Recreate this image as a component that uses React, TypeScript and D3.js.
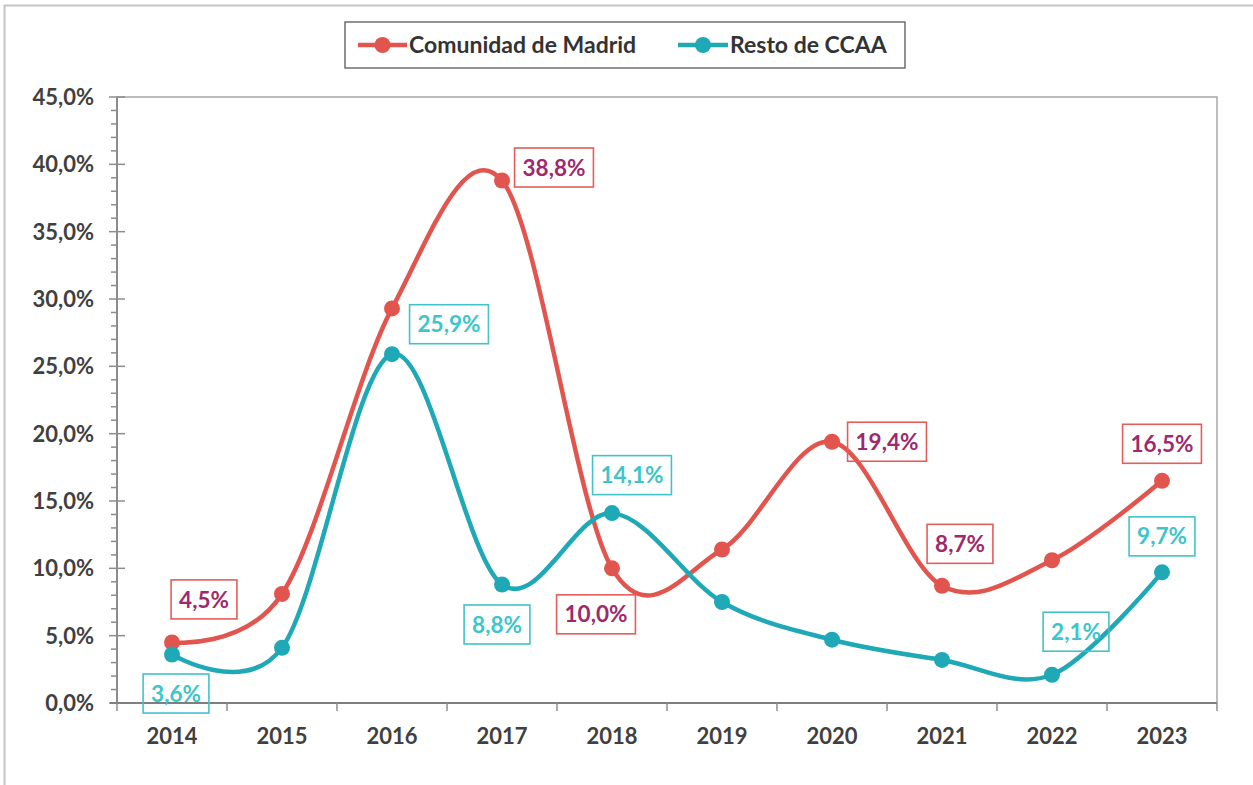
import React, { useEffect, useRef } from 'react';
import * as d3 from 'd3';

// datos (% variación)
const years = ['2014', '2015', '2016', '2017', '2018', '2019', '2020', '2021', '2022', '2023'];
const madrid = [4.5, 8.1, 29.3, 38.8, 10.0, 11.4, 19.4, 8.7, 10.6, 16.5];
const resto = [3.6, 4.1, 25.9, 8.8, 14.1, 7.5, 4.7, 3.2, 2.1, 9.7];
const seriesNames = ['Comunidad de Madrid', 'Resto de CCAA'];
const yTicks = [0, 5, 10, 15, 20, 25, 30, 35, 40, 45];

// qué puntos llevan etiqueta, y dónde va la caja (desplazamiento en px respecto al punto)
const madridLabels: [number, number, number][] = [
  [0, 32, -43], [3, 52, -13], [4, -16, 46], [6, 55, 0], [7, 18, -42], [9, 0, -37],
];
const restoLabels: [number, number, number][] = [
  [0, 4, 39], [2, 57, -30], [3, -5, 40], [4, 20, -38], [8, 24, -43], [9, 0, -36],
];

const W = 1253;
const H = 785;
const FONT = 'Lato, "Open Sans", sans-serif';

const fmt = (v: number) => v.toFixed(1).replace('.', ',') + '%';

const App = () => {
  const ref = useRef<SVGSVGElement>(null);

  useEffect(() => {
    const svg = d3.select(ref.current);
    svg.selectAll('*').remove();

    const x = d3.scaleBand().domain(years).range([117, 1217]).padding(0);
    const y = d3.scaleLinear().domain([0, 45]).range([703, 97]);
    const cx = (i: number) => (x(years[i]) as number) + x.bandwidth() / 2;

    // marco exterior
    svg.append('rect')
      .attr('x', 4.5).attr('y', 5.5).attr('width', W + 10).attr('height', H + 10)
      .attr('fill', '#fff').attr('stroke', '#c4c4c4').attr('stroke-width', 2);

    // área de trazado
    svg.append('rect')
      .attr('x', 117).attr('y', 97).attr('width', 1100).attr('height', 606)
      .attr('fill', 'none').attr('stroke', '#a8a8a8').attr('stroke-width', 1.5);

    // eje Y
    const minor = d3.range(0, 46, 1).filter(d => d % 5 !== 0);
    svg.selectAll('.minor').data(minor).enter().append('line')
      .attr('x1', 111).attr('x2', 117)
      .attr('y1', d => y(d)).attr('y2', d => y(d))
      .attr('stroke', '#8c8c8c').attr('stroke-width', 1.5);
    svg.selectAll('.major').data(yTicks).enter().append('line')
      .attr('x1', 109).attr('x2', 125)
      .attr('y1', d => y(d)).attr('y2', d => y(d))
      .attr('stroke', '#8c8c8c').attr('stroke-width', 1.5);
    svg.append('line')
      .attr('x1', 117).attr('x2', 117).attr('y1', 97).attr('y2', 703)
      .attr('stroke', '#8c8c8c').attr('stroke-width', 2);
    svg.selectAll('.ylab').data(yTicks).enter().append('text')
      .attr('x', 94).attr('y', d => y(d)).attr('dy', '0.36em')
      .attr('text-anchor', 'end')
      .attr('font-family', FONT).attr('font-weight', 700).attr('font-size', 22)
      .attr('fill', '#404040')
      .text(d => d.toFixed(1).replace('.', ',') + '%');

    // eje X
    svg.append('line')
      .attr('x1', 110).attr('x2', 1217).attr('y1', 703).attr('y2', 703)
      .attr('stroke', '#7f7f7f').attr('stroke-width', 2);
    const bounds = years.map(d => x(d) as number).concat([1217]);
    svg.selectAll('.xtick').data(bounds).enter().append('line')
      .attr('x1', d => d).attr('x2', d => d).attr('y1', 703).attr('y2', 711)
      .attr('stroke', '#8c8c8c').attr('stroke-width', 1.5);
    svg.selectAll('.xlab').data(years).enter().append('text')
      .attr('x', (d, i) => cx(i)).attr('y', 744)
      .attr('text-anchor', 'middle')
      .attr('font-family', FONT).attr('font-weight', 700).attr('font-size', 22)
      .attr('fill', '#404040')
      .text(d => d);

    // línea suavizada tipo Excel
    const line = d3.line<number>()
      .x((d, i) => cx(i))
      .y(d => y(d))
      .curve(d3.curveCatmullRom.alpha(0));

    const series = [
      { values: madrid, color: '#e2554f', text: '#9c2a6c', box: '#e35d5a', labels: madridLabels },
      { values: resto, color: '#1fa8b6', text: '#3cc6ca', box: '#42c3c8', labels: restoLabels },
    ];

    series.forEach(s => {
      svg.append('path')
        .attr('d', line(s.values))
        .attr('fill', 'none').attr('stroke', s.color).attr('stroke-width', 4.5)
        .attr('stroke-linejoin', 'round');
      svg.selectAll(null).data(s.values).enter().append('circle')
        .attr('cx', (d, i) => cx(i)).attr('cy', d => y(d)).attr('r', 8)
        .attr('fill', s.color);
    });

    // etiquetas con caja
    series.forEach(s => {
      s.labels.forEach(([i, dx, dy]) => {
        const px = cx(i) + dx;
        const py = y(s.values[i]) + dy;
        const g = svg.append('g');
        const rect = g.append('rect');
        const t = g.append('text')
          .attr('x', px).attr('y', py).attr('dy', '0.36em')
          .attr('text-anchor', 'middle')
          .attr('font-family', FONT).attr('font-weight', 700).attr('font-size', 22.5)
          .attr('fill', s.text)
          .text(fmt(s.values[i]));
        const bw = (t.node() as SVGTextElement).getComputedTextLength() + 16;
        rect.attr('x', px - bw / 2).attr('y', py - 19.5).attr('width', bw).attr('height', 39)
          .attr('fill', 'none').attr('stroke', s.box).attr('stroke-width', 1.6);
      });
    });

    // leyenda
    svg.append('rect')
      .attr('x', 345).attr('y', 22).attr('width', 560).attr('height', 46)
      .attr('fill', '#fff').attr('stroke', '#6e6e6e').attr('stroke-width', 1.5);
    const legendPos = [{ x0: 358, x1: 407, tx: 409 }, { x0: 678, x1: 728, tx: 730 }];
    series.forEach((s, k) => {
      const p = legendPos[k];
      svg.append('line')
        .attr('x1', p.x0).attr('x2', p.x1).attr('y1', 45).attr('y2', 45)
        .attr('stroke', s.color).attr('stroke-width', 4.5);
      svg.append('circle')
        .attr('cx', (p.x0 + p.x1) / 2).attr('cy', 45).attr('r', 8).attr('fill', s.color);
      svg.append('text')
        .attr('x', p.tx).attr('y', 45).attr('dy', '0.36em')
        .attr('font-family', FONT).attr('font-weight', 700).attr('font-size', 23)
        .attr('fill', '#333')
        .text(seriesNames[k]);
    });
  }, []);

  return (
    <div style={{ position: 'absolute', left: 0, top: 0 }}>
      <svg ref={ref} width={W} height={H} style={{ display: 'block' }}></svg>
    </div>
  );
};

export default App;
